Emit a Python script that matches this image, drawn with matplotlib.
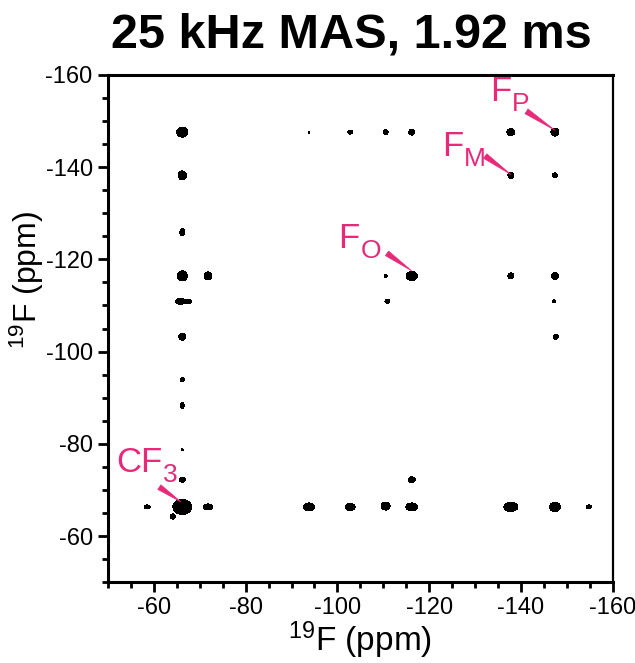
import numpy as np
import matplotlib
matplotlib.use("Agg")
import matplotlib.pyplot as plt

plt.rcParams['font.family'] = ['Liberation Sans', 'DejaVu Sans']
plt.rcParams['mathtext.fontset'] = 'custom'
plt.rcParams['mathtext.rm'] = 'Liberation Sans'
plt.rcParams['mathtext.it'] = 'Liberation Sans:italic'
plt.rcParams['mathtext.bf'] = 'Liberation Sans:bold'
plt.rcParams['axes.unicode_minus'] = False

PINK = '#e8297a'

# 2D 19F-19F cross peaks: F2 shift, F1 shift, height, widths (ppm)
peak_f2 = [-66.2, -66.2, -66.2, -66.2, -65.8, -67.6, -66.2, -66.2, -66.2, -66.2,
           -66.2, -66.2, -64.1, -58.6, -71.8, -93.8, -102.8, -110.5, -116.2, -137.8,
           -147.4, -154.8, -160.4, -116.2, -93.8, -102.8, -110.5, -116.2, -137.8, -147.4,
           -137.8, -147.4, -110.5, -116.2, -137.8, -147.4, -110.9, -147.2, -147.6, -71.8]
peak_f1 = [-147.6, -138.2, -125.9, -116.4, -110.9, -110.9, -103.2, -93.9, -88.3, -78.7,
           -72.2, -66.3, -64.2, -66.3, -66.3, -66.3, -66.3, -66.5, -66.3, -66.3,
           -66.3, -66.3, -66.3, -72.2, -147.6, -147.6, -147.6, -147.6, -147.6, -147.6,
           -138.2, -138.2, -116.4, -116.4, -116.4, -116.4, -110.9, -110.9, -103.2, -116.4]
peak_height = [5.0, 3.0, 2.0, 5.0, 3.0, 2.0, 3.0, 1.4, 1.6, 1.2,
               2.0, 12.0, 2.0, 2.0, 3.0, 4.0, 4.0, 3.0, 4.0, 5.0,
               4.0, 1.6, 1.6, 2.5, 1.2, 1.8, 1.8, 2.0, 2.5, 2.5,
               2.0, 1.8, 1.3, 4.0, 2.0, 2.5, 1.8, 1.3, 1.8, 2.5]
peak_wx = [0.67, 0.59, 0.46, 0.61, 0.73, 0.46, 0.51, 0.53, 0.45, 0.36,
           0.55, 0.92, 0.46, 0.55, 0.66, 0.72, 0.65, 0.66, 0.78, 0.85,
           0.72, 0.56, 0.50, 0.56, 0.36, 0.50, 0.50, 0.55, 0.64, 0.64,
           0.55, 0.50, 0.45, 0.72, 0.55, 0.56, 0.50, 0.45, 0.50, 0.64]
peak_wy = [0.61, 0.66, 0.64, 0.61, 0.44, 0.37, 0.51, 0.53, 0.67, 0.36,
           0.46, 0.72, 0.46, 0.37, 0.44, 0.52, 0.46, 0.59, 0.52, 0.55,
           0.59, 0.45, 0.50, 0.48, 0.36, 0.40, 0.50, 0.55, 0.56, 0.64,
           0.55, 0.50, 0.45, 0.59, 0.55, 0.56, 0.40, 0.45, 0.50, 0.64]

# assignments: main text, subscript, text anchor, wedge tail, wedge tip (ppm)
label_main = ['F', 'F', 'F', 'CF']
label_sub = ['P', 'M', 'O', '3']
label_pos = [(-133.3, -154.3), (-122.8, -142.4), (-100.2, -122.4), (-51.7, -73.8)]
wedge_tail = [(-141.2, -152.1), (-132.2, -142.4), (-110.8, -121.3), (-61.2, -70.6)]
wedge_tip = [(-147.4, -148.0), (-137.8, -138.4), (-116.2, -117.5), (-65.9, -67.4)]

f2 = np.linspace(-50, -160, 1101)
f1 = np.linspace(-50, -160, 1101)
X, Y = np.meshgrid(f2, f1)
Z = np.zeros_like(X)
for x0, y0, a, sx, sy in zip(peak_f2, peak_f1, peak_height, peak_wx, peak_wy):
    Z += a * np.exp(-((X - x0) ** 2 / (2 * sx ** 2) + (Y - y0) ** 2 / (2 * sy ** 2)))

fig = plt.figure(figsize=(6.35, 6.63), dpi=100)
ax = fig.add_axes([0.170, 0.122, 0.795, 0.765])
ax.contourf(X, Y, Z, levels=[1.0, Z.max() + 1], colors='k')

ax.set_xlim(-50, -160)
ax.set_ylim(-50, -160)
ax.set_xticks(np.arange(-60, -161, -20))
ax.set_yticks(np.arange(-60, -161, -20))
ax.set_xticks(np.arange(-50, -161, -5), minor=True)
ax.set_yticks(np.arange(-50, -161, -5), minor=True)
ax.tick_params(which='major', direction='out', length=7, width=2, labelsize=17, pad=4)
ax.tick_params(which='minor', direction='out', length=4, width=2)
for s in ['left', 'top', 'bottom']:
    ax.spines[s].set_linewidth(2.2)
ax.spines['right'].set_linewidth(1.6)

ax.set_xlabel('$^{19}$F (ppm)', fontsize=24, labelpad=0)
ax.set_ylabel('$^{19}$F (ppm)', fontsize=23)
ax.yaxis.set_label_coords(-0.122, 0.596)
ax.set_title('25 kHz MAS, 1.92 ms', fontsize=35, fontweight='bold', pad=20, x=0.483)

for main, sub, pos, tail, tip in zip(label_main, label_sub, label_pos, wedge_tail, wedge_tip):
    t = ax.text(pos[0], pos[1], main, color=PINK, fontsize=25, ha='left', va='baseline')
    ax.annotate(sub, xy=(1, 0), xycoords=t, xytext=(0.5, -2), textcoords='offset points',
                color=PINK, fontsize=19, ha='left', va='baseline')
    ax.annotate('', xy=tip, xytext=tail,
                arrowprops=dict(arrowstyle='wedge,tail_width=0.4', fc=PINK, ec=PINK,
                                lw=0.5, shrinkA=0, shrinkB=0, mutation_scale=10))

fig.savefig('out.png', dpi=100)
